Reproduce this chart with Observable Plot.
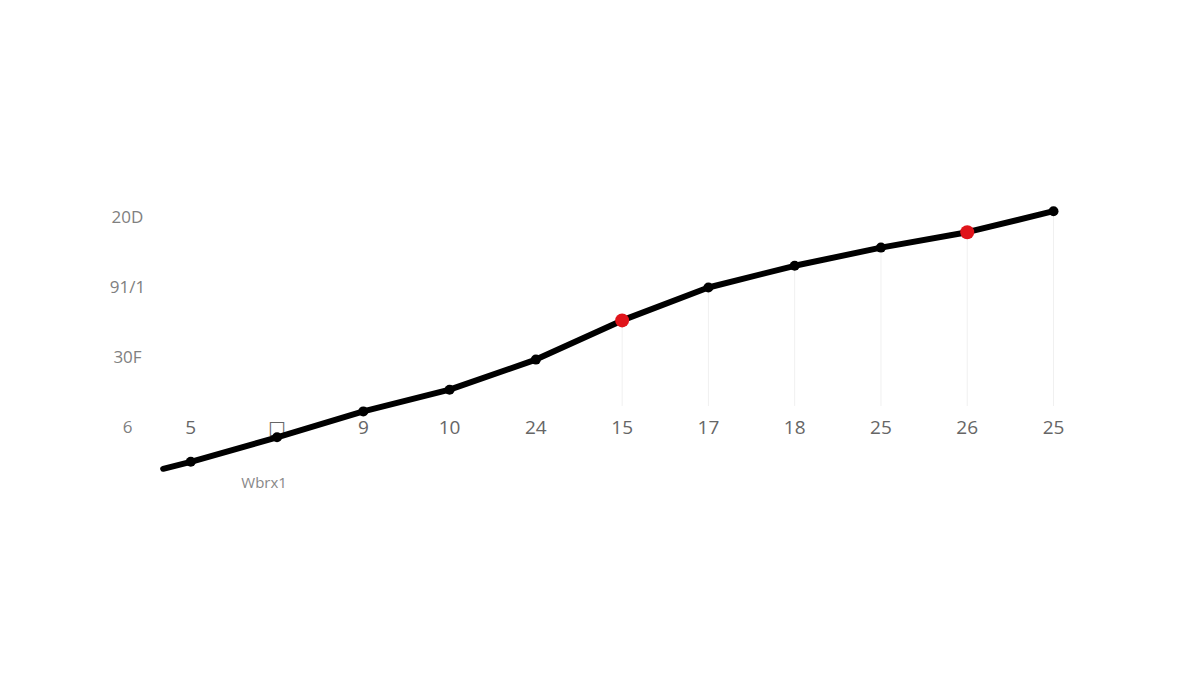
<!DOCTYPE html>
<html>
<head>
<meta charset="utf-8">
<script src="https://cdn.jsdelivr.net/npm/d3@7"></script>
<script src="https://cdn.jsdelivr.net/npm/@observablehq/plot@0.6"></script>
<style>
  html, body { margin: 0; padding: 0; background: #fff; }
  #chart { width: 1200px; height: 675px; }
  svg { font-family: "Open Sans", "DejaVu Sans", sans-serif; }
</style>
</head>
<body>
<div id="chart"></div>
<script>
// Data
const steps   = [0.68, 1, 2, 3, 4, 5, 6, 7, 8, 9, 10, 11];
const values  = [-59, -49, -14, 23, 54, 97, 153, 200, 231, 257, 279, 309];
const highlighted = [false, false, false, false, false, false, true, false, false, false, true, false];

const xTickSteps  = [1, 2, 3, 4, 5, 6, 7, 8, 9, 10, 11];
const xTickLabels = ["5", "□", "9", "10", "24", "15", "17", "18", "25", "26", "25"];

const yTickValues = [0, 100, 200, 300];
const yTickLabels = ["6", "30F", "91/1", "20D"];

const axisTitle = "Wbrx1";

const points = steps.map((s, i) => ({ step: s, value: values[i], hi: highlighted[i] }));
const xTicks = xTickSteps.map((s, i) => ({ step: s, label: xTickLabels[i] }));
const guideFloor = 30;

const chart = Plot.plot({
  width: 1200,
  height: 675,
  marginLeft: 104,
  marginRight: 147,
  marginTop: 0,
  marginBottom: 0,
  x: { domain: [0, 11], axis: null },
  y: { domain: [-354.3, 610] },
  style: { background: "#fff" },
  marks: [
    Plot.ruleX(points.filter(d => d.step >= 6), {
      x: "step", y1: guideFloor, y2: "value", stroke: "#f0f0f0", strokeWidth: 1
    }),
    Plot.axisY({
      ticks: yTickValues,
      tickFormat: d => yTickLabels[yTickValues.indexOf(d)],
      tickSize: 0,
      tickPadding: 0,
      textAnchor: "middle",
      dx: 23,
      fontSize: 17,
      fill: "#808080",
      label: null
    }),
    Plot.text(xTicks, {
      x: "step", y: 0, text: "label",
      fontSize: 19, fill: "#666"
    }),
    Plot.text([axisTitle], {
      x: 1.85, y: -79, text: d => d, fontSize: 15, fill: "#888"
    }),
    Plot.line(points, {
      x: "step", y: "value", stroke: "#000", strokeWidth: 6,
      curve: "linear", strokeLinecap: "round", strokeLinejoin: "round"
    }),
    Plot.dot(points.filter(d => !d.hi && d.step >= 1), {
      x: "step", y: "value", r: 5, fill: "#000"
    }),
    Plot.dot(points.filter(d => d.hi), {
      x: "step", y: "value", r: 7, fill: "#e0141b"
    })
  ]
});
document.getElementById("chart").appendChild(chart);
</script>
</body>
</html>
